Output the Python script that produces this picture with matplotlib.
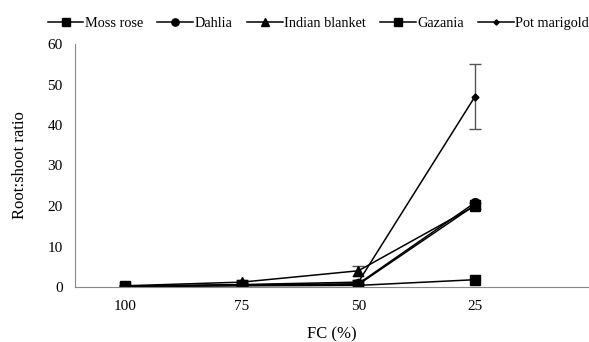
import matplotlib.pyplot as plt

fc = ["100", "75", "50", "25"]
moss_rose = [0.2, 0.4, 0.6, 20.2]
dahlia = [0.2, 0.5, 0.8, 20.8]
indian_blanket = [0.3, 1.2, 4.0, 20.0]
gazania = [0.1, 0.3, 0.4, 1.8]
pot_marigold = [0.2, 0.6, 1.2, 47.0]
indian_err = [0.1, 0.6, 1.2, 0.8]
marigold_err = [0.1, 0.3, 0.5, 8.0]

plt.rcParams['font.family'] = ['Liberation Serif', 'DejaVu Serif']

fig = plt.figure(figsize=(5.89, 3.42), dpi=100)
ax = fig.add_axes([75/589, 1 - 287/342, 513/589, 243/342])
x = range(len(fc))

series = [
    ("Moss rose", moss_rose, "s", 7, None),
    ("Dahlia", dahlia, "o", 7, None),
    ("Indian blanket", indian_blanket, "^", 7, indian_err),
    ("Gazania", gazania, "s", 7, None),
    ("Pot marigold", pot_marigold, "D", 3.5, marigold_err),
]
for name, vals, m, ms, err in series:
    ax.errorbar(x, vals, yerr=err, color="black", marker=m, markersize=ms,
                linewidth=1.1, ecolor="#555555", elinewidth=1, capsize=4,
                label=name)

ax.set_xlim(-0.43, 3.97)
ax.set_ylim(0, 60)
ax.set_yticks(range(0, 61, 10))
ax.set_xticks(list(x))
ax.set_xticklabels(fc)
ax.tick_params(length=0, labelsize=11, pad=9)
ax.tick_params(axis='y', pad=9)
for s in ["top", "right"]:
    ax.spines[s].set_visible(False)
for s in ["left", "bottom"]:
    ax.spines[s].set_color("#888888")
ax.set_xlabel("FC (%)", fontsize=12, labelpad=10)
ax.set_ylabel("Root:shoot ratio", fontsize=12, labelpad=14)

handles, labels = ax.get_legend_handles_labels()
fig.legend([h[0] for h in handles], labels, loc="center left", ncol=5,
           bbox_to_anchor=(42/589, 1 - 23/342), frameon=False, fontsize=10.3,
           borderpad=0.2, borderaxespad=0.2,
           handlelength=2.5, handletextpad=0.1, columnspacing=1.0,
           markerscale=0.75)

fig.savefig("out.png", dpi=100)
